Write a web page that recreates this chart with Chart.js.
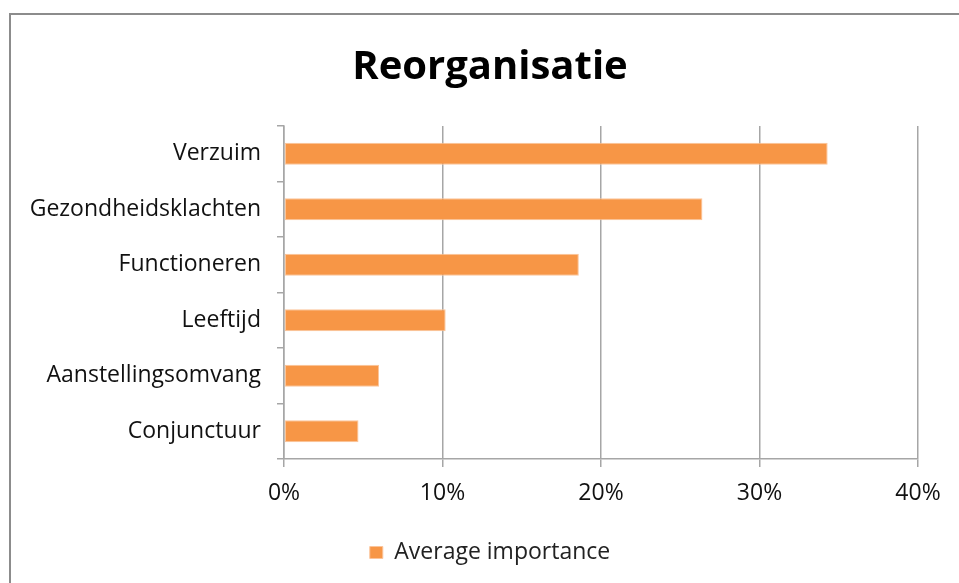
<!DOCTYPE html>
<html>
<head>
<meta charset="utf-8">
<script src="https://cdn.jsdelivr.net/npm/chart.js@4.4.1/dist/chart.umd.min.js"></script>
<style>
  body { margin: 0; background: #fff; overflow: hidden; }
  #wrap { position: relative; width: 959px; height: 583px; }
  #frame { position: absolute; left: 9px; top: 13px; width: 1000px; height: 1000px; border: 2px solid #8c8c8c; }
  canvas { position: absolute; left: 0; top: 0; }
</style>
</head>
<body>
<div id="wrap">
  <div id="frame"></div>
  <canvas id="myChart" width="959" height="583"></canvas>
</div>
<script>
var categories = ["Verzuim", "Gezondheidsklachten", "Functioneren", "Leeftijd", "Aanstellingsomvang", "Conjunctuur"];
var importance = [34.3, 26.4, 18.6, 10.2, 6.0, 4.7];
var xTicks = [0, 10, 20, 30, 40];
var seriesName = "Average importance";

var fontName = "'Open Sans', Lato, sans-serif";

// title and legend are centred on the frame, not on the canvas
var shiftBoxes = {
  id: "shiftBoxes",
  afterLayout: function (chart) {
    chart.titleBlock.left = 62;
    chart.legend.left = 62;
  }
};

new Chart("myChart", {
  type: "bar",
  data: {
    labels: categories,
    datasets: [{
      label: seriesName,
      data: importance,
      backgroundColor: "#F79646",
      borderColor: "#FBC49A",
      borderWidth: 1,
      borderSkipped: false,
      barPercentage: 0.4,
      categoryPercentage: 1
    }]
  },
  plugins: [shiftBoxes],
  options: {
    indexAxis: "y",
    responsive: false,
    animation: false,
    layout: { padding: { left: 0, right: 41, top: 0, bottom: 9 } },
    plugins: {
      title: {
        display: true,
        text: "Reorganisatie",
        color: "#000",
        font: { family: fontName, size: 40, weight: "bold", lineHeight: 1.2 },
        padding: { top: 44, bottom: 34 }
      },
      legend: {
        position: "bottom",
        labels: {
          color: "#222",
          font: { family: fontName, size: 23 },
          boxWidth: 13,
          boxHeight: 12,
          padding: 10
        }
      },
      tooltip: { enabled: false }
    },
    scales: {
      x: {
        min: 0,
        max: 40,
        afterBuildTicks: function (axis) {
          axis.ticks = xTicks.map(function (v) { return { value: v }; });
        },
        afterFit: function (axis) { axis.height = 72; },
        ticks: {
          color: "#111",
          font: { family: fontName, size: 23 },
          padding: 13,
          callback: function (v) { return v + "%"; }
        },
        grid: { color: "#a6a6a6", lineWidth: 1.5, tickLength: 8 },
        border: { color: "#a6a6a6", width: 1.5 }
      },
      y: {
        afterFit: function (axis) { axis.width = 284; },
        ticks: {
          color: "#111",
          font: { family: fontName, size: 23 },
          padding: 16
        },
        grid: { drawOnChartArea: false, color: "#a6a6a6", lineWidth: 1.5, tickLength: 7 },
        border: { color: "#a6a6a6", width: 1.5 }
      }
    }
  }
});
</script>
</body>
</html>
